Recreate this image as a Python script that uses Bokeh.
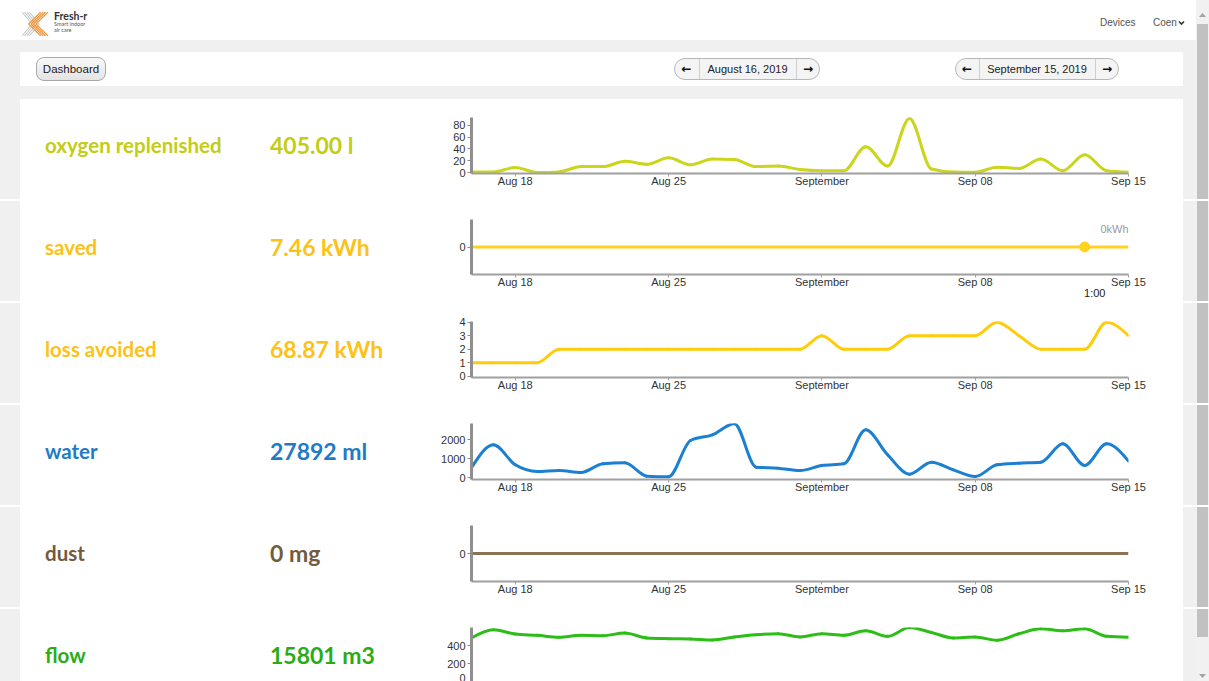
import pandas as pd
from bokeh.plotting import figure
from bokeh.layouts import column, row
from bokeh.models import Div, Range1d, FixedTicker, DatetimeAxis
from bokeh.models import Label
from bokeh.embed import file_html
from bokeh.resources import INLINE

# ---------------- data ----------------
START = "2019-08-16"
END = "2019-09-15"
dates = pd.date_range(START, END, freq="D")

x_tick_dates = ["2019-08-18", "2019-08-25", "2019-09-01", "2019-09-08", "2019-09-15"]
x_tick_labels = ["Aug 18", "Aug 25", "September", "Sep 08", "Sep 15"]

oxygen = [1, 1, 8.5, 0, 1, 10, 10, 19, 14, 25, 13, 23, 22, 10, 11, 5, 3, 3, 44, 11,
          92, 6, 1, 0.5, 9, 7, 23, 3, 30, 3, 0.5]
saved = [0, 0, 0, 0, 0, 0, 0, 0, 0, 0, 0, 0, 0, 0, 0, 0, 0, 0, 0, 0,
         0, 0, 0, 0, 0, 0, 0, 0, 0, 0, 0]
loss_avoided = [1, 1, 1, 1, 2, 2, 2, 2, 2, 2, 2, 2, 2, 2, 2, 2, 3, 2, 2, 2,
                3, 3, 3, 3, 4, 3, 2, 2, 2, 4, 3]
water = [526, 1736, 684, 333, 386, 281, 737, 789, 88, 53, 1965, 2263, 2850, 561, 509,
         386, 649, 737, 2526, 1210, 193, 824, 421, 70, 684, 772, 824, 1789, 649, 1789, 877]
dust = [0, 0, 0, 0, 0, 0, 0, 0, 0, 0, 0, 0, 0, 0, 0, 0, 0, 0, 0, 0,
        0, 0, 0, 0, 0, 0, 0, 0, 0, 0, 0]
flow = [484, 575, 527, 513, 491, 513, 509, 538, 484, 476, 473, 462, 495, 520, 531,
        495, 531, 513, 564, 502, 600, 545, 484, 495, 458, 531, 585, 564, 585, 502, 491]

metric_names = ["oxygen replenished", "saved", "loss avoided", "water", "dust", "flow"]
metric_totals = ["405.00 l", "7.46 kWh", "68.87 kWh", "27892 ml", "0 mg", "15801 m3"]
metric_series = [oxygen, saved, loss_avoided, water, dust, flow]
y_ticks = [[0, 20, 40, 60, 80], [0], [0, 1, 2, 3, 4], [0, 1000, 2000], [0], [0, 200, 400]]

saved_marker_date = "2019-09-13"
saved_marker_value = 0
saved_tooltip = "0kWh"
saved_tooltip_time = "1:00"
saved_tooltip_time_anchor = "2019-09-13 11:00"
header_dates = ["August 16, 2019", "September 15, 2019"]

# ---------------- style ----------------
label_colors = ["#c2cd14", "#fcc215", "#fcc215", "#1f7bc8", "#735b3d", "#2aac14"]
line_colors = ["#cbd51c", "#ffd21f", "#ffcc0a", "#1c80d2", "#8b7355", "#2cbd16"]
y_ranges = [(-1.7, 93.6), (-1, 1), (-0.1, 4.05), (-89, 2858), (-1, 1), (0, 600)]
GREY = "#f0f0f0"
W = 1209


def ms(d):
    return pd.Timestamp(d).value / 1e6


def sgn(v):
    return -1.0 if v < 0 else 1.0


def monotone_bezier(xs, ys):
    """d3.curveMonotoneX rendering: control points of cubic segments."""
    n = len(xs)
    h = [xs[i + 1] - xs[i] for i in range(n - 1)]
    s = [(ys[i + 1] - ys[i]) / h[i] for i in range(n - 1)]
    t = [0.0] * n
    for i in range(1, n - 1):
        s0, s1 = s[i - 1], s[i]
        p = (s0 * h[i] + s1 * h[i - 1]) / (h[i - 1] + h[i])
        t[i] = (sgn(s0) + sgn(s1)) * min(abs(s0), abs(s1), 0.5 * abs(p))
    t[0] = (3 * s[0] - t[1]) / 2
    t[-1] = (3 * s[-1] - t[-2]) / 2
    seg = dict(x0=[], y0=[], x1=[], y1=[], cx0=[], cy0=[], cx1=[], cy1=[])
    for i in range(n - 1):
        dx = h[i] / 3
        seg["x0"].append(xs[i]); seg["y0"].append(ys[i])
        seg["x1"].append(xs[i + 1]); seg["y1"].append(ys[i + 1])
        seg["cx0"].append(xs[i] + dx); seg["cy0"].append(ys[i] + dx * t[i])
        seg["cx1"].append(xs[i + 1] - dx); seg["cy1"].append(ys[i + 1] - dx * t[i + 1])
    return seg


def style_axis(ax, color, width, tick_out=4, standoff=2):
    ax.axis_line_color = color
    ax.axis_line_width = width
    ax.major_tick_line_color = color
    ax.major_tick_out = tick_out
    ax.major_tick_in = 0
    ax.minor_tick_out = 0
    ax.minor_tick_in = 0
    ax.major_label_standoff = standoff
    ax.major_label_text_font = "Liberation Sans"
    ax.major_label_text_font_size = "11px"
    ax.major_label_text_color = "#333333"


def make_chart(i, height, show_x=True):
    p = figure(width=770, height=height, x_axis_type="datetime",
               x_range=Range1d(ms(START), ms(END)), y_range=Range1d(*y_ranges[i]),
               output_backend="svg", toolbar_location=None,
               min_border_left=71, min_border_right=42, min_border_top=18,
               min_border_bottom=26 if show_x else 0)
    p.outline_line_color = None
    p.background_fill_color = "white"
    p.border_fill_color = "white"
    p.xgrid.visible = False
    p.ygrid.visible = False

    ya = p.yaxis[0]
    ya.ticker = FixedTicker(ticks=y_ticks[i], minor_ticks=[])
    style_axis(ya, "#8f8f8f", 3)

    xa = p.xaxis[0]
    tick_ms = [ms(d) for d in x_tick_dates]
    xa.ticker = FixedTicker(ticks=tick_ms, minor_ticks=[])
    xa.major_label_overrides = {t: l for t, l in zip(tick_ms, x_tick_labels)}
    style_axis(xa, "#a0a0a0", 2, tick_out=3, standoff=-2)
    xa.visible = show_x

    xs = [d.value / 1e6 for d in dates]
    ys = metric_series[i]
    if all(v == ys[0] for v in ys):
        p.line(xs, ys, line_color=line_colors[i], line_width=3)
    else:
        seg = monotone_bezier(xs, ys)
        p.bezier(line_color=line_colors[i], line_width=3, line_cap="round", **seg)
    return p


# ---------------- html helpers ----------------
def box(l, t, w, h, bg, extra=""):
    return (f'<div style="position:absolute;left:{l}px;top:{t}px;width:{w}px;'
            f'height:{h}px;background:{bg};{extra}"></div>')


def txt(l, t, s, css):
    return f'<div style="position:absolute;left:{l}px;top:{t}px;white-space:nowrap;{css}">{s}</div>'


def tri(l, t, up):
    pts = "0,5 3.5,1 7,5" if up else "0,1 3.5,5 7,1"
    return (f'<svg width="7" height="6" viewBox="0 0 7 6" style="position:absolute;left:{l}px;top:{t}px">'
            f'<polygon points="{pts}" fill="#a3a3a3"/></svg>')


def scroll(ox, ref_top, h):
    s = box(ox, 0, 13, h, "#f1f1f1")
    t0 = max(24 - ref_top, 0)
    t1 = min(637 - ref_top, h)
    if t1 > t0:
        s += box(ox + 1, t0, 11, t1 - t0, "#c1c1c1")
    if ref_top == 0:
        s += tri(ox + 3, 12, True)
    if ref_top + h >= 681:
        s += tri(ox + 3, 673 - ref_top, False)
    return s


def mkdiv(w, h, inner):
    html = (f'<div style="position:relative;width:{w}px;height:{h}px;overflow:hidden;'
            f'background:{GREY};">{inner}</div>')
    return Div(text=html, width=w, height=h, margin=0, styles={"overflow": "hidden"})


SANS = "font-family:'Liberation Sans',Arial,sans-serif;"
LATO = "font-family:Lato,sans-serif;font-weight:700;"


def picker(left, top, width, lsep, rsep, label):
    s = box(left, top, width, 22, "#f4f4f4",
            "box-sizing:border-box;border:1px solid #b8b8b8;border-radius:11px;")
    s += box(left + lsep, top + 1, 1, 20, "#cfcfcf")
    s += box(left + rsep, top + 1, 1, 20, "#cfcfcf")
    s += txt(left, top + 1, "&#8592;", f"width:{lsep}px;text-align:center;line-height:20px;"
             "font-family:'DejaVu Sans';font-weight:bold;font-size:12px;color:#111;")
    s += txt(left + rsep, top + 1, "&#8594;", f"width:{width - rsep}px;text-align:center;line-height:20px;"
             "font-family:'DejaVu Sans';font-weight:bold;font-size:12px;color:#111;")
    s += txt(left + lsep, top + 1, label, f"width:{rsep - lsep}px;text-align:center;line-height:20px;"
             f"{SANS}font-size:11px;color:#222;")
    return s


# header + toolbar (y 0..99)
logo = '<svg width="28" height="24" viewBox="0 0 28 24" style="position:absolute;left:22px;top:12px">'
for k in range(4):
    logo += (f'<polyline points="{k * 2.4},0 {10 + k * 2.4},12 {k * 2.4},24" '
             f'stroke="#c9c9c9" stroke-width="1.1" fill="none"/>')
for k in range(4):
    logo += (f'<polyline points="{26 - k * 2.4},0 {14 - k * 2.4},12 {26 - k * 2.4},24" '
             f'stroke="#f3963a" stroke-width="1.2" fill="none"/>')
logo += '</svg>'

hdr = box(0, 0, 1196, 40, "white")
hdr += logo
hdr += txt(54, 9, "Fresh-r", "font-family:Lato;font-weight:700;font-size:10.5px;color:#333;")
hdr += txt(54, 21, "Smart indoor", "font-family:Lato;font-size:5.5px;color:#555;")
hdr += txt(54, 27, "air care", "font-family:Lato;font-size:5.5px;color:#555;")
hdr += txt(1100, 17, "Devices", f"{SANS}font-size:10px;color:#555;line-height:12px;")
hdr += txt(1153, 17, "Coen", f"{SANS}font-size:10px;color:#555;line-height:12px;")
hdr += ('<svg width="7" height="6" viewBox="0 0 7 6" style="position:absolute;left:1178px;top:20px">'
        '<polyline points="1,1.5 3.5,4 6,1.5" stroke="#333" stroke-width="1.6" fill="none"/></svg>')
hdr += box(20, 52, 1163, 34, "white")
hdr += box(36, 57, 70, 24, "linear-gradient(#f8f8f8,#e4e4e4)",
           "box-sizing:border-box;border:1px solid #a8a8a8;border-radius:8px;")
hdr += txt(36, 58, "Dashboard", f"width:70px;text-align:center;line-height:22px;{SANS}font-size:11.5px;color:#222;")
hdr += picker(674, 58, 146, 25, 122, header_dates[0])
hdr += picker(955, 58, 164, 24, 140, header_dates[1])
hdr += scroll(1196, 0, 99)
header_div = mkdiv(W, 99, hdr)

blocks = [header_div]
ref_top = 99
for i in range(6):
    last = i == 5
    h = 72 if last else 100
    left = box(20, 0, 380, h, "white")
    left += txt(45, 34, metric_names[i],
                f"{LATO}font-size:20.5px;line-height:24px;color:{label_colors[i]};")
    left += txt(270, 32, metric_totals[i],
                f"{LATO}font-size:23px;line-height:28px;color:{label_colors[i]};")
    left_div = mkdiv(400, h, left)

    p = make_chart(i, h, show_x=not last)
    if i == 1:
        mx = ms(saved_marker_date)
        p.scatter([mx], [saved_marker_value], size=10, color=line_colors[1])
        p.add_layout(Label(x=ms(END), y=0.64, text=saved_tooltip, text_align="right",
                           text_baseline="middle", text_font="Liberation Sans",
                           text_font_size="11px", text_color="#9a9a9a"))
        t_ms = ms(saved_tooltip_time_anchor)
        tip_axis = DatetimeAxis(ticker=FixedTicker(ticks=[t_ms], minor_ticks=[]),
                                major_label_overrides={t_ms: saved_tooltip_time})
        style_axis(tip_axis, None, 1, tick_out=0, standoff=-4)
        tip_axis.major_label_text_color = "#222222"
        p.add_layout(tip_axis, "below")

    right = box(0, 0, 13, h, "white") + scroll(26, ref_top, h)
    right_div = mkdiv(39, h, right)
    blocks.append(row(left_div, p, right_div, spacing=0))
    ref_top += h
    if not last:
        sep = (box(20, 0, 1163, 2, "white") + box(32, 0, 1138, 2, "#e2e2e2")
               + scroll(1196, ref_top, 2))
        blocks.append(mkdiv(W, 2, sep))
        ref_top += 2

layout = column(*blocks, spacing=0)
open("out.html", "w").write(file_html(layout, INLINE))
